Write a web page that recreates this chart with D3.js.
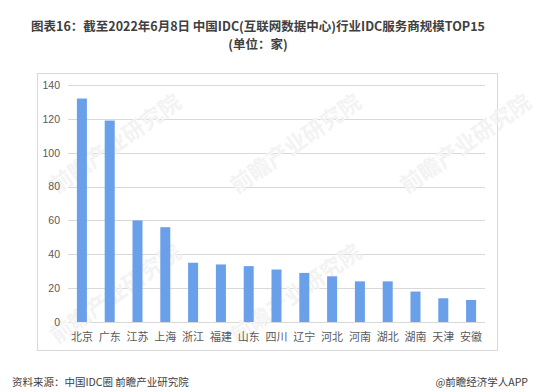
<!DOCTYPE html>
<html>
<head>
<meta charset="utf-8">
<script src="https://cdn.jsdelivr.net/npm/d3@7"></script>
<style>
  body { margin: 0; background: #fff; }
  svg { display: block; font-family: "Noto Sans CJK SC", "Noto Sans", sans-serif; }
</style>
</head>
<body>
<svg id="chart" width="540" height="392"></svg>
<script>
var provinces = ["北京", "广东", "江苏", "上海", "浙江", "福建", "山东", "四川", "辽宁", "河北", "河南", "湖北", "湖南", "天津", "安徽"];
var counts = [132, 119, 60, 56, 35, 34, 33, 31, 29, 27, 24, 24, 18, 14, 13];
var yTicks = [0, 20, 40, 60, 80, 100, 120, 140];

var titleLines = ["图表16：截至2022年6月8日 中国IDC(互联网数据中心)行业IDC服务商规模TOP15", "(单位：家)"];
var sourceText = "资料来源：中国IDC圈 前瞻产业研究院";
var brandText = "@前瞻经济学人APP";

var svg = d3.select("#chart");

// Chart frame
svg.append("rect")
    .attr("x", 37.5)
    .attr("y", 73.5)
    .attr("width", 460)
    .attr("height", 277)
    .attr("fill", "none")
    .attr("stroke", "#d9d9d9");

var plot = { left: 68, right: 485, top: 85, bottom: 322 };

var x = d3.scaleBand()
    .domain(provinces)
    .range([plot.left, plot.right])
    .paddingInner(0.64)
    .paddingOuter(0.32);

var y = d3.scaleLinear()
    .domain([0, 140])
    .range([plot.bottom, plot.top]);

// Gridlines
svg.append("g")
    .selectAll("line")
    .data(yTicks)
    .enter()
  .append("line")
    .attr("x1", plot.left)
    .attr("x2", plot.right)
    .attr("y1", function(d) { return Math.round(y(d)) + 0.5 })
    .attr("y2", function(d) { return Math.round(y(d)) + 0.5 })
    .attr("stroke", "#d9d9d9");

// Faint watermarks
var marks = [[120, 150], [300, 150], [470, 150], [120, 300], [300, 300]];
svg.append("g")
    .selectAll("text")
    .data(marks)
    .enter()
  .append("text")
    .attr("transform", function(d) { return "translate(" + d[0] + "," + d[1] + ") rotate(-35)" })
    .attr("text-anchor", "middle")
    .attr("font-size", 22)
    .attr("font-weight", "bold")
    .attr("fill", "#f3f3f3")
    .text("前瞻产业研究院");

// Bars
svg.append("g")
    .selectAll("rect")
    .data(counts)
    .enter()
  .append("rect")
    .attr("x", function(d, i) { return x(provinces[i]) })
    .attr("y", function(d) { return y(d) })
    .attr("width", x.bandwidth())
    .attr("height", function(d) { return y(0) - y(d) })
    .attr("fill", "#6a9fea");

// Y axis
var yAxis = svg.append("g")
    .attr("transform", "translate(" + (plot.left - 8) + ",0)")
    .call(d3.axisLeft(y).tickValues(yTicks).tickSize(0).tickPadding(0));
yAxis.select(".domain").remove();
yAxis.selectAll("text")
    .attr("font-size", 10.5)
    .attr("font-family", "Liberation Sans, Arial, sans-serif")
    .attr("fill", "#595959");

// X axis
var xAxis = svg.append("g")
    .attr("transform", "translate(0," + plot.bottom + ")")
    .call(d3.axisBottom(x).tickSize(0).tickPadding(11));
xAxis.select(".domain").remove();
xAxis.selectAll("text")
    .attr("font-size", 11)
    .attr("font-family", "Noto Sans CJK SC, sans-serif")
    .attr("fill", "#595959");

// Title
svg.append("g")
    .selectAll("text")
    .data(titleLines)
    .enter()
  .append("text")
    .attr("x", 258)
    .attr("y", function(d, i) { return 31 + i * 18 })
    .attr("text-anchor", "middle")
    .attr("font-size", 12.5)
    .attr("font-weight", "bold")
    .attr("fill", "#404040")
    .text(function(d) { return d });

// Footer
svg.append("text")
    .attr("x", 12)
    .attr("y", 386)
    .attr("font-size", 10.5)
    .attr("fill", "#404040")
    .text(sourceText);

svg.append("text")
    .attr("x", 528)
    .attr("y", 386)
    .attr("text-anchor", "end")
    .attr("font-size", 10.5)
    .attr("fill", "#404040")
    .text(brandText);
</script>
</body>
</html>
